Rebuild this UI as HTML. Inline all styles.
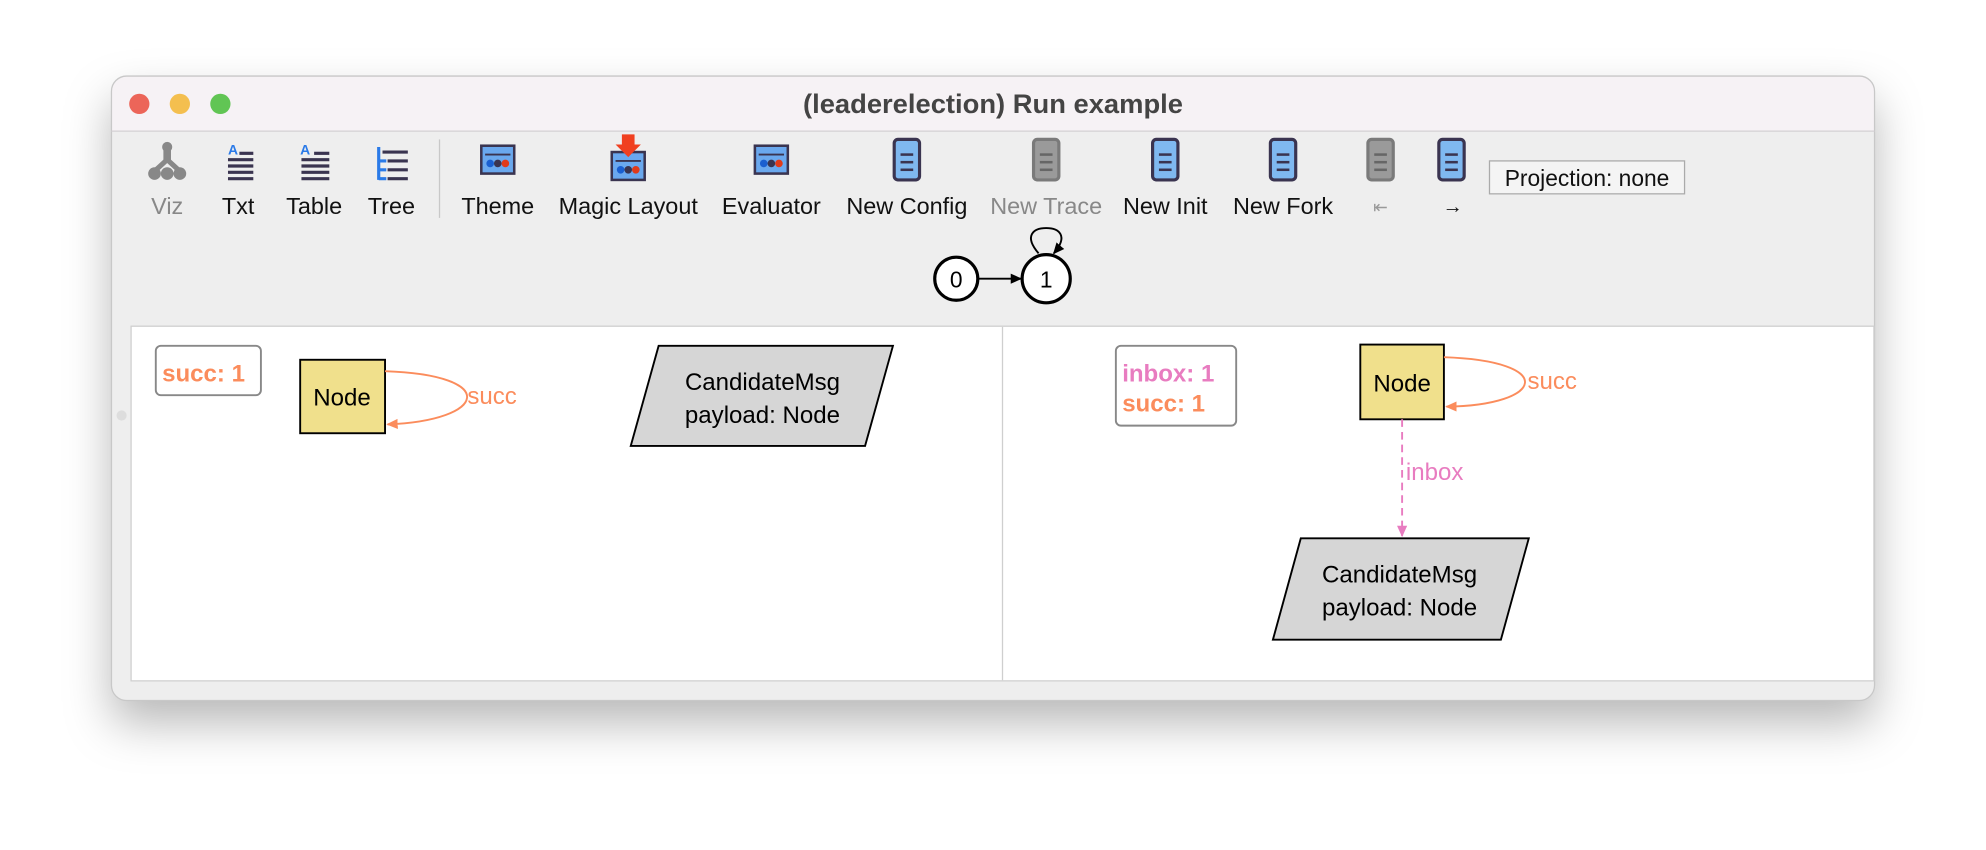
<!DOCTYPE html>
<html><head><meta charset="utf-8"><style>
html,body{margin:0;padding:0;background:#fff;width:1986px;height:850px;overflow:hidden}
svg{display:block}
text{font-family:"Liberation Sans",sans-serif}
</style></head><body>
<svg width="1986" height="850" viewBox="0 0 1568 671" xmlns="http://www.w3.org/2000/svg">
<defs>
<filter id="sh" x="-10%" y="-20%" width="120%" height="150%"><feDropShadow dx="0" dy="18" stdDeviation="18" flood-color="#000" flood-opacity="0.28"/></filter>
<marker id="ao" markerWidth="10" markerHeight="10" refX="8" refY="5" orient="auto" markerUnits="userSpaceOnUse"><path d="M0,1 L9,5 L0,9 z" fill="#fb8c5c"/></marker>
<marker id="ap" markerWidth="10" markerHeight="10" refX="8" refY="5" orient="auto" markerUnits="userSpaceOnUse"><path d="M0,1 L9,5 L0,9 z" fill="#e87cc0"/></marker>
<marker id="ab" markerWidth="10" markerHeight="10" refX="8" refY="5" orient="auto" markerUnits="userSpaceOnUse"><path d="M0,1 L9,5 L0,9 z" fill="#000"/></marker>
<g id="scroll"><rect x="-10" y="0" width="20" height="32" rx="3" fill="#7fb8f0" stroke="#3a3450" stroke-width="2.5"/><line x1="-5" y1="12" x2="5" y2="12" stroke="#3a3450" stroke-width="2"/><line x1="-5" y1="18" x2="5" y2="18" stroke="#3a3450" stroke-width="2"/><line x1="-5" y1="24" x2="5" y2="24" stroke="#3a3450" stroke-width="2"/></g>
<g id="scrollg"><rect x="-10" y="0" width="20" height="32" rx="3" fill="#9a9a9a" stroke="#7a7a7a" stroke-width="2.5"/><line x1="-5" y1="12" x2="5" y2="12" stroke="#666" stroke-width="2"/><line x1="-5" y1="18" x2="5" y2="18" stroke="#666" stroke-width="2"/><line x1="-5" y1="24" x2="5" y2="24" stroke="#666" stroke-width="2"/></g>
<g id="panel"><rect x="-13" y="0" width="26" height="22" fill="#6aa8ee" stroke="#3a3450" stroke-width="2"/><line x1="-10" y1="7" x2="10" y2="7" stroke="#3a3450" stroke-width="1.5"/><circle cx="-6" cy="14" r="3" fill="#1a5fd0"/><circle cx="0" cy="14" r="3" fill="#3a3450"/><circle cx="6" cy="14" r="3" fill="#e03a1a"/></g>
</defs>
<rect x="88" y="60" width="1392" height="493" rx="12" fill="#eeeeee" filter="url(#sh)"/>
<path d="M100,60 H1468 A12,12 0 0 1 1480,72 V103 H88 V72 A12,12 0 0 1 100,60 z" fill="#f6f2f5"/>
<rect x="88" y="60" width="1392" height="493" rx="12" fill="none" stroke="#c8c8c8" stroke-width="1"/>
<line x1="88" y1="103.5" x2="1480" y2="103.5" stroke="#d4d0d4"/>
<circle cx="110" cy="82" r="8" fill="#ec6559"/><circle cx="142" cy="82" r="8" fill="#f4bf4f"/><circle cx="174" cy="82" r="8" fill="#61c554"/>
<text x="784" y="89" font-size="21" font-weight="bold" fill="#444" text-anchor="middle" textLength="300" lengthAdjust="spacingAndGlyphs">(leaderelection) Run example</text>
<g fill="#888"><circle cx="132" cy="116" r="4"/><rect x="129" y="118" width="6" height="10"/><circle cx="122" cy="137" r="5"/><circle cx="132" cy="137" r="5"/><circle cx="142" cy="137" r="5"/><path d="M132,126 L121,136 M132,126 L143,136" stroke="#888" stroke-width="4"/></g>
<g stroke="#3a3450" stroke-width="2.5"><line x1="180" y1="126" x2="200" y2="126"/><line x1="180" y1="131" x2="200" y2="131"/><line x1="180" y1="136" x2="200" y2="136"/><line x1="180" y1="141" x2="200" y2="141"/><line x1="189" y1="121" x2="200" y2="121"/>
<line x1="238" y1="126" x2="260" y2="126"/><line x1="238" y1="131" x2="260" y2="131"/><line x1="238" y1="136" x2="260" y2="136"/><line x1="238" y1="141" x2="260" y2="141"/><line x1="248" y1="121" x2="260" y2="121"/>
<line x1="302" y1="120" x2="322" y2="120"/><line x1="306" y1="127" x2="322" y2="127"/><line x1="306" y1="134" x2="322" y2="134"/><line x1="306" y1="141" x2="322" y2="141"/></g>
<text x="180" y="122" font-size="11" fill="#2a7ae8" font-weight="bold">A</text><text x="237" y="122" font-size="11" fill="#2a7ae8" font-weight="bold">A</text>
<path d="M299,116 V142 M299,127 H305 M299,134 H305 M299,141 H305" stroke="#2a7ae8" stroke-width="2.5" fill="none"/>
<line x1="347" y1="110" x2="347" y2="172" stroke="#c8c8c8"/>
<use href="#panel" x="393" y="115"/><use href="#panel" x="496" y="120"/><path d="M491,106 h10 v8 h5 l-10,10 l-10,-10 h5z" fill="#f04020"/>
<use href="#panel" x="609" y="115"/>
<use href="#scroll" x="716" y="110"/><use href="#scrollg" x="826" y="110"/><use href="#scroll" x="920" y="110"/><use href="#scroll" x="1013" y="110"/><use href="#scrollg" x="1090" y="110"/><use href="#scroll" x="1146" y="110"/>
<g font-size="18.5" text-anchor="middle" fill="#111">
<text x="132" y="169" fill="#888">Viz</text><text x="188" y="169">Txt</text><text x="248" y="169">Table</text><text x="309" y="169">Tree</text>
<text x="393" y="169">Theme</text><text x="496" y="169">Magic Layout</text><text x="609" y="169">Evaluator</text><text x="716" y="169">New Config</text><text x="826" y="169" fill="#888">New Trace</text><text x="920" y="169">New Init</text><text x="1013" y="169">New Fork</text><text x="1090" y="168" fill="#999" font-size="14">⇤</text><text x="1147" y="168" font-size="16">→</text>
</g>
<rect x="1176" y="127" width="154" height="26" fill="#f4f4f4" stroke="#aaa"/>
<text x="1253" y="147" font-size="18" text-anchor="middle" fill="#111">Projection: none</text>
<circle cx="755" cy="220" r="17" fill="#fff" stroke="#000" stroke-width="2.5"/><text x="755" y="227" font-size="18" text-anchor="middle">0</text>
<circle cx="826" cy="220" r="19" fill="#fff" stroke="#000" stroke-width="2.5"/><text x="826" y="227" font-size="18" text-anchor="middle">1</text>
<line x1="772" y1="220" x2="806" y2="220" stroke="#000" stroke-width="1.5" marker-end="url(#ab)"/>
<path d="M820,200 C808,186 816,180 826,180 C836,180 844,186 832,200" fill="none" stroke="#000" stroke-width="1.5" marker-end="url(#ab)"/>
<rect x="103.5" y="257.5" width="1376" height="280" fill="#fff" stroke="#cfcfcf"/>
<line x1="791.5" y1="258" x2="791.5" y2="537" stroke="#cfcfcf"/>
<circle cx="96" cy="328" r="4" fill="#ddd"/>
<rect x="123" y="273" width="83" height="39" rx="4" fill="#fff" stroke="#888" stroke-width="1.5"/>
<text x="128" y="301" font-size="19" font-weight="bold" fill="#fb8c5c">succ: 1</text>
<rect x="237" y="284" width="67" height="58" fill="#f0e08c" stroke="#000" stroke-width="1.5"/>
<text x="270" y="320" font-size="19" text-anchor="middle">Node</text>
<path d="M304,293 C395,296 385,332 306,335" fill="none" stroke="#fb8c5c" stroke-width="1.5" marker-end="url(#ao)"/>
<text x="369" y="319" font-size="19" fill="#fb8c5c">succ</text>
<polygon points="520,273 705,273 683,352 498,352" fill="#d6d6d6" stroke="#000" stroke-width="1.5"/>
<text x="602" y="308" font-size="19" text-anchor="middle">CandidateMsg</text><text x="602" y="334" font-size="19" text-anchor="middle">payload: Node</text>
<rect x="881" y="273" width="95" height="63" rx="4" fill="#fff" stroke="#888" stroke-width="1.5"/>
<text x="886" y="301" font-size="19" font-weight="bold" fill="#e87cc0">inbox: 1</text>
<text x="886" y="325" font-size="19" font-weight="bold" fill="#fb8c5c">succ: 1</text>
<rect x="1074" y="272" width="66" height="59" fill="#f0e08c" stroke="#000" stroke-width="1.5"/>
<text x="1107" y="309" font-size="19" text-anchor="middle">Node</text>
<path d="M1140,282 C1230,285 1220,320 1142,321" fill="none" stroke="#fb8c5c" stroke-width="1.5" marker-end="url(#ao)"/>
<text x="1206" y="307" font-size="19" fill="#fb8c5c">succ</text>
<line x1="1107" y1="331" x2="1107" y2="423" stroke="#e87cc0" stroke-width="1.5" stroke-dasharray="6,4" marker-end="url(#ap)"/>
<text x="1110" y="379" font-size="19" fill="#e87cc0">inbox</text>
<polygon points="1027,425 1207,425 1185,505 1005,505" fill="#d6d6d6" stroke="#000" stroke-width="1.5"/>
<text x="1105" y="460" font-size="19" text-anchor="middle">CandidateMsg</text><text x="1105" y="486" font-size="19" text-anchor="middle">payload: Node</text>
</svg>
</body></html>
